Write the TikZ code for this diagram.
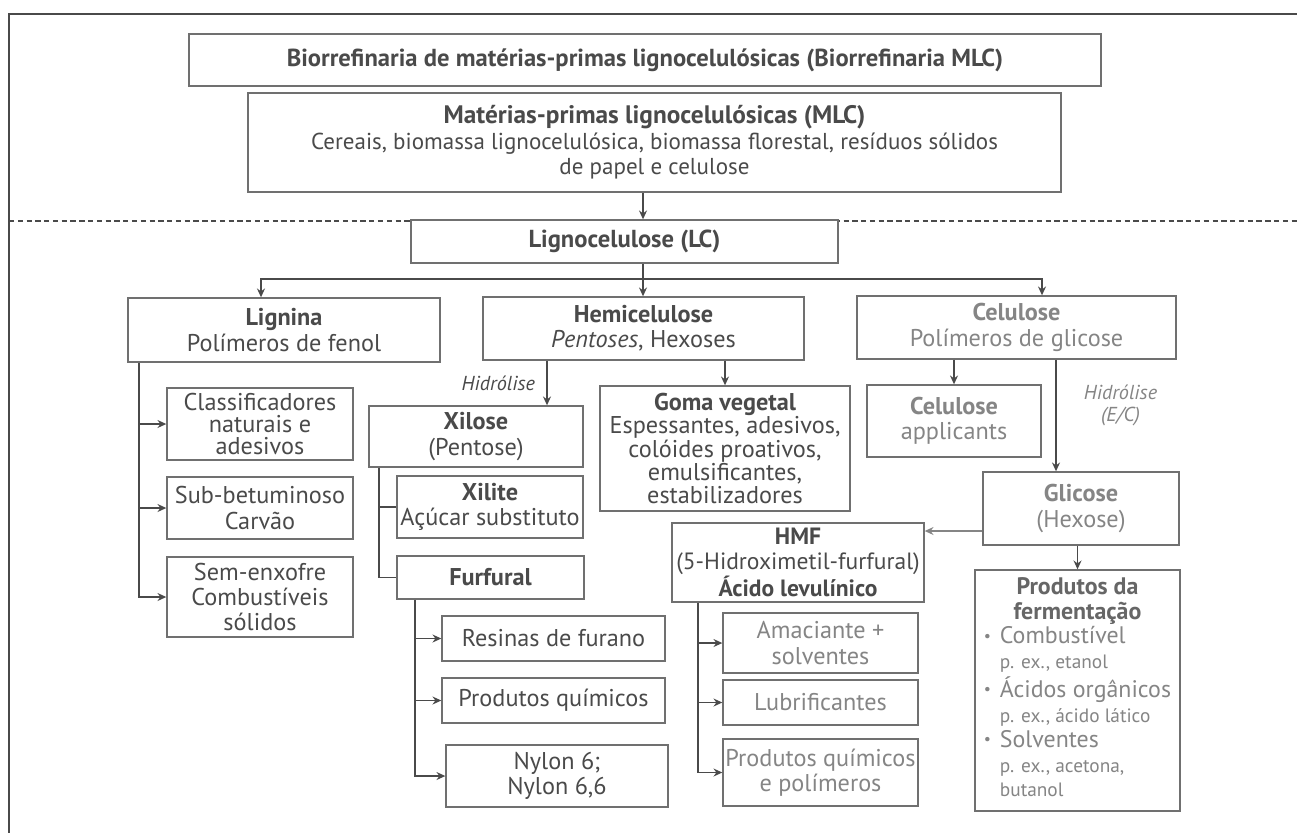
\documentclass[tikz,border=0pt]{standalone}
\usepackage{fontspec}
\setmainfont{PT Sans}
\usetikzlibrary{arrows.meta}
\definecolor{escuro}{HTML}{4A4A4A}
\definecolor{medio}{HTML}{666666}
\definecolor{claro}{HTML}{858585}
\definecolor{borda}{HTML}{707070}
\tikzset{
  ->/.style={draw=escuro,line width=1.1pt,-{Stealth[length=5pt,width=4.5pt]}},
  liga/.style={draw=escuro,line width=1.1pt}
}
\tikzstyle{caixa}=[draw=borda,fill=white,line width=0.8pt,align=center,inner sep=1pt,text=escuro,font=\fontsize{13.8}{14.4}\selectfont]
\tikzstyle{clara}=[caixa,text=claro]
\tikzstyle{rotulo}=[font=\itshape\fontsize{11.5}{12.5}\selectfont,text=escuro,align=center]
\newcommand{\pex}[1]{{\fontsize{11}{12}\selectfont #1}}
\newcommand{\marca}{{\fontsize{9}{9}\selectfont\raisebox{0.3ex}{\textbullet}}}

\begin{document}
\begin{tikzpicture}[x=0.02cm,y=-0.02cm]
    \useasboundingbox (0,0) rectangle (1297,833);
    % moldura
    \draw[draw=escuro,line width=0.8pt] (1297,14) -- (9,14) -- (9,833);
    \draw[draw=escuro,line width=0.8pt,densely dashed] (9,221) -- (1297,221);

    \node[caixa,minimum width=18.24cm,minimum height=1.04cm,font=\bfseries\fontsize{14}{15}\selectfont] (titulo) at (645,60) {Biorrefinaria de matérias-primas lignocelulósicas (Biorrefinaria MLC)};
    \node[caixa,minimum width=16.26cm,minimum height=1.98cm,font=\fontsize{13.1}{14.6}\selectfont] (mlc) at (654.5,142.5) {{\fontsize{14.4}{14.6}\selectfont\bfseries Matérias-primas lignocelulósicas (MLC)}\\Cereais, biomassa lignocelulósica, biomassa florestal, resíduos sólidos\\de papel e celulose};
    \node[caixa,minimum width=8.54cm,minimum height=0.86cm,font=\bfseries\fontsize{14}{15}\selectfont] (lc) at (624.5,241.5) {Lignocelulose (LC)};

    \node[caixa,minimum width=6.24cm,minimum height=1.28cm] (lignina) at (284,330) {\textbf{Lignina}\\Polímeros de fenol};
    \node[caixa,minimum width=6.42cm,minimum height=1.26cm] (hemi) at (643.5,328.5) {\textbf{Hemicelulose}\\\textit{Pentoses}, Hexoses};
    \node[clara,minimum width=6.38cm,minimum height=1.26cm] (celulose) at (1016.5,327.5) {\textbf{Celulose}\\Polímeros de glicose};

    \node[caixa,minimum width=3.72cm,minimum height=1.44cm,font=\fontsize{13.8}{12.6}\selectfont] (classif) at (260,424) {Classificadores\\naturais e\\adesivos};
    \node[caixa,minimum width=3.72cm,minimum height=1.24cm] (subbet) at (260,508) {Sub-betuminoso\\Carvão};
    \node[caixa,minimum width=3.72cm,minimum height=1.6cm] (semenx) at (260,597) {Sem-enxofre\\Combustíveis\\sólidos};

    \node[caixa,minimum width=4.28cm,minimum height=1.22cm] (xilose) at (476,436.5) {\textbf{Xilose}\\(Pentose)};
    \node[caixa,minimum width=3.72cm,minimum height=1.24cm] (xilite) at (490,507) {\textbf{Xilite}\\Açúcar substituto};
    \node[caixa,minimum width=3.74cm,minimum height=0.86cm] (furfural) at (490.5,577.5) {\textbf{Furfural}};
    \node[caixa,minimum width=4.46cm,minimum height=0.9cm] (resinas) at (553.5,638.5) {Resinas de furano};
    \node[caixa,minimum width=4.46cm,minimum height=0.9cm] (prodq) at (553.5,700.5) {Produtos químicos};
    \node[caixa,minimum width=4.44cm,minimum height=1.24cm] (nylon) at (557,776) {Nylon 6;\\Nylon 6,6};

    \node[caixa,minimum width=5cm,minimum height=2.5cm,font=\fontsize{13.8}{13.2}\selectfont] (goma) at (725,448.5) {\textbf{Goma vegetal}\\Espessantes, adesivos,\\colóides proativos,\\emulsificantes,\\estabilizadores};
    \node[caixa,minimum width=5.04cm,minimum height=1.58cm,font=\fontsize{13.4}{14}\selectfont] (hmf) at (798,562.5) {\textbf{HMF}\\(5-Hidroximetil-furfural)\\\textbf{Ácido levulínico}};
    \node[clara,minimum width=3.9cm,minimum height=1.2cm] (amac) at (820.5,643) {Amaciante +\\solventes};
    \node[clara,minimum width=3.9cm,minimum height=0.9cm] (lubr) at (820.5,702.5) {Lubrificantes};
    \node[clara,minimum width=3.9cm,minimum height=1.34cm] (prodpol) at (820.5,772.5) {Produtos químicos\\e polímeros};

    \node[clara,minimum width=3.48cm,minimum height=1.44cm] (celapp) at (954,421) {\textbf{Celulose}\\applicants};
    \node[clara,minimum width=3.92cm,minimum height=1.46cm] (glicose) at (1081,508.5) {\textbf{Glicose}\\(Hexose)};
    \node[clara,minimum width=4.1cm,minimum height=4.82cm,font=\fontsize{13.6}{14.2}\selectfont] (ferm) at (1077.5,690.5) {%
      \begin{tabular}{@{}l@{\hspace{5pt}}l@{}}
        \multicolumn{2}{c}{\color{medio}\textbf{Produtos da}}\\
        \multicolumn{2}{c}{\color{medio}\textbf{fermentação}}\\
        \marca & Combustível\\
         & \pex{p. ex., etanol}\\
        \marca & Ácidos orgânicos\\
         & \pex{p. ex., ácido lático}\\
        \marca & Solventes\\
         & \pex{p. ex., acetona,}\\
         & \pex{butanol}
      \end{tabular}};

    % ligacoes
    \coordinate (eixo) at (643,279);
    \coordinate (barL) at (261,279);
    \coordinate (barR) at (1042,279);
    \draw [->] (mlc.south -| eixo) -- (lc.north -| eixo);
    \draw [->] (lc.south -| eixo) -- (hemi.north -| eixo);
    \draw [->] (eixo) -- (barL) -- (barL |- lignina.north);
    \draw [->] (eixo) -- (barR) -- (barR |- celulose.north);

    \coordinate (ligT) at (139,0);
    \draw [->] (lignina.south -| ligT) |- (semenx.west);
    \foreach \n in {classif,subbet}
      \draw [->] (ligT |- \n.west) -- (\n.west);

    \coordinate (hidX) at (547,0);
    \draw [->] (hemi.south -| hidX) -- node[left,rotulo,xshift=-3pt] {Hidrólise} (xilose.north -| hidX);
    \draw [->] (hemi.south -| goma) -- (goma.north);

    \coordinate (xilT) at (379,0);
    \draw [liga] (xilose.south -| xilT) |- (furfural.west);
    \draw [liga] (xilT |- xilite.west) -- (xilite.west);

    \coordinate (furT) at (415,0);
    \draw [->] (furfural.south -| furT) |- (nylon.west);
    \foreach \n in {resinas,prodq}
      \draw [->] (furT |- \n.west) -- (\n.west);

    \draw [->] (celulose.south -| celapp) -- (celapp.north);
    \coordinate (celX) at (1056,0);
    \draw [->] (celulose.south -| celX) -- node[right,rotulo,text=claro,xshift=12pt,yshift=6pt] {Hidrólise\\(E/C)} (glicose.north -| celX);

    \coordinate (gh) at (0,531);
    \draw [->,draw=claro,line width=1.5pt] (glicose.west |- gh) -- (hmf.east |- gh);
    \draw [->] (glicose.south -| ferm) -- (ferm.north);

    \coordinate (hmfT) at (698,0);
    \draw [->] (hmf.south -| hmfT) |- (prodpol.west);
    \foreach \n in {amac,lubr}
      \draw [->] (hmfT |- \n.west) -- (\n.west);
\end{tikzpicture}
\end{document}
